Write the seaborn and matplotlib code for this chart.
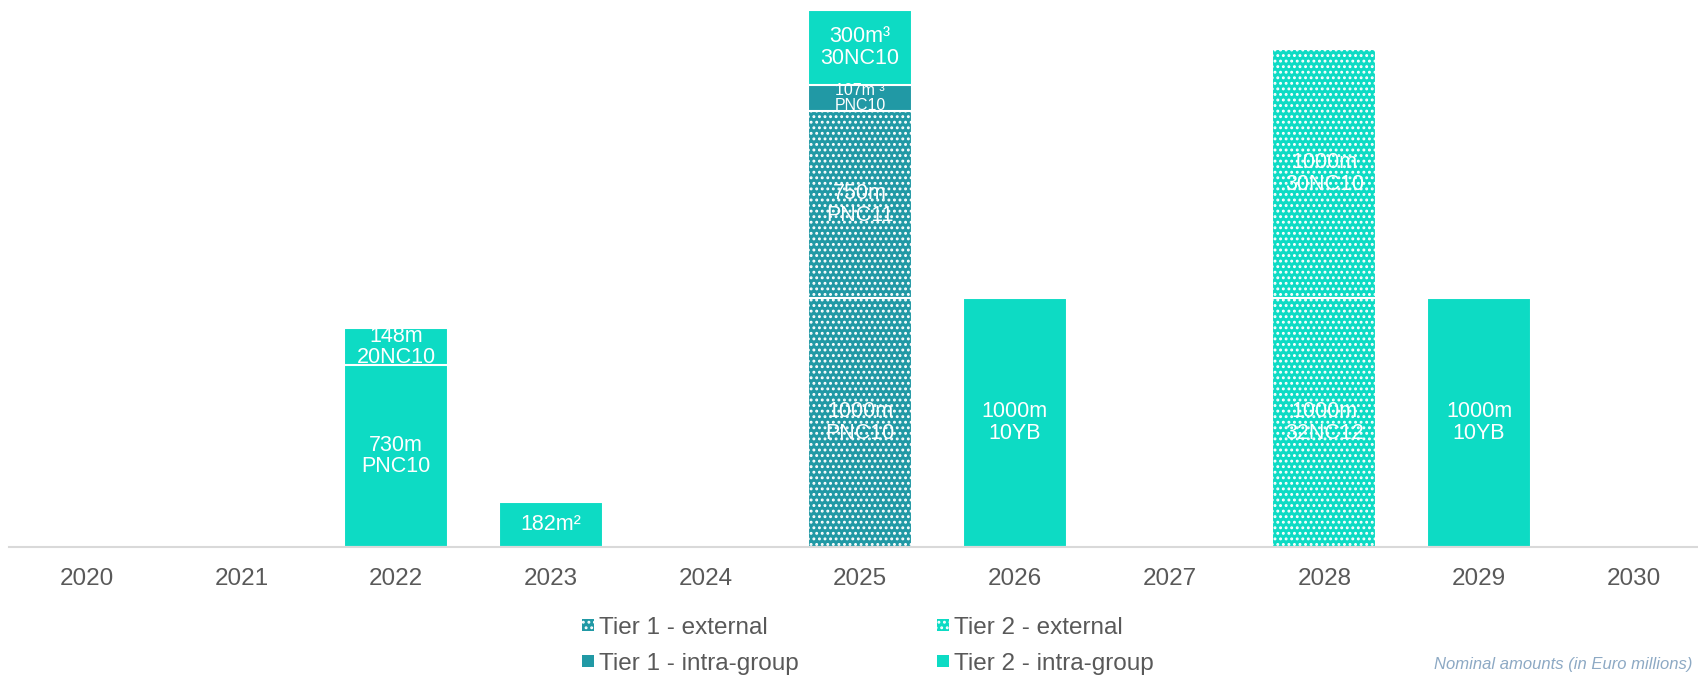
import matplotlib
matplotlib.use("Agg")
import numpy as np
import pandas as pd
import matplotlib.pyplot as plt
import seaborn as sns
from matplotlib.patches import Patch

# Maturity profile by year
years = [2020, 2021, 2022, 2023, 2024, 2025, 2026, 2027, 2028, 2029, 2030]

# Stacked segments, listed bottom to top within each year
seg_year = [2022, 2022, 2023, 2025, 2025, 2025, 2025, 2026, 2028, 2028, 2029]
seg_value = [730, 148, 182, 1000, 750, 107, 300, 1000, 1000, 1000, 1000]
seg_tier = [
    "Tier 2 - intra-group", "Tier 2 - intra-group", "Tier 2 - intra-group",
    "Tier 1 - external", "Tier 1 - external", "Tier 1 - intra-group",
    "Tier 2 - intra-group", "Tier 2 - intra-group",
    "Tier 2 - external", "Tier 2 - external", "Tier 2 - intra-group",
]
seg_label = [
    "730m\nPNC10", "148m\n20NC10", "182m\u00b2",
    "1000m\nPNC10", "750m\nPNC11", "107m \u00b3\nPNC10", "300m\u00b3\n30NC10",
    "1000m\n10YB", "1000m\n32NC12", "1000m\n30NC10", "1000m\n10YB",
]

tier_order = ["Tier 1 - external", "Tier 1 - intra-group",
              "Tier 2 - external", "Tier 2 - intra-group"]
DARK = "#2199A5"
LIGHT = "#0DDBC4"
tier_style = {
    "Tier 1 - external": (DARK, "..."),
    "Tier 1 - intra-group": (DARK, None),
    "Tier 2 - external": (LIGHT, "..."),
    "Tier 2 - intra-group": (LIGHT, None),
}

sns.set_theme(style="white")
plt.rcParams["font.family"] = ["Liberation Sans", "DejaVu Sans"]
plt.rcParams["hatch.color"] = "white"
plt.rcParams["hatch.linewidth"] = 1.3

df = pd.DataFrame({"year": seg_year, "value": seg_value,
                   "tier": seg_tier, "label": seg_label})
df["level"] = df.groupby("year").cumcount()
df["top"] = df.groupby("year")["value"].cumsum()
df["bottom"] = df["top"] - df["value"]
df["year_str"] = df["year"].astype(str)
year_strs = [str(y) for y in years]
pos = {y: i for i, y in enumerate(years)}

W, H = 1698, 675
slot = 154.7
left_px = 9.3
fig = plt.figure(figsize=(W / 100, H / 100), dpi=100)
ax = fig.add_axes([left_px / W, 128 / H, len(years) * slot / W, 1 - 128 / H])

# Draw cumulative layers from the top segment down so each lower one overlays
for lvl in sorted(df["level"].unique(), reverse=True):
    sub = df[df["level"] == lvl]
    n_before = len(ax.patches)
    sns.barplot(data=sub, x="year_str", y="top", order=year_strs,
                width=0.672, color=LIGHT, edgecolor="white", linewidth=1.5,
                errorbar=None, ax=ax)
    for p in ax.patches[n_before:]:
        idx = int(round(p.get_x() + p.get_width() / 2))
        row = sub[sub["year"] == years[idx]]
        if row.empty:
            continue
        color, hatch = tier_style[row["tier"].iloc[0]]
        p.set_facecolor(color)
        p.set_edgecolor("white")
        if hatch:
            p.set_hatch(hatch)

# Segment labels
for _, r in df.iterrows():
    small = r["value"] < 150 and r["year"] == 2025
    ax.text(pos[r["year"]], r["bottom"] + r["value"] / 2, r["label"],
            ha="center", va="center", color="white",
            fontsize=11.5 if small else 15.5,
            linespacing=0.98 if small else 1.04)

ax.set_xlim(-0.5, len(years) - 0.5)
ax.set_ylim(0, 2197)
ax.set_xlabel("")
ax.set_ylabel("")
ax.set_yticks([])
ax.tick_params(axis="x", length=0, pad=15, labelsize=17.5, labelcolor="#595959")
for s in ["top", "left", "right"]:
    ax.spines[s].set_visible(False)
ax.spines["bottom"].set_color("#D9D9D9")
ax.spines["bottom"].set_linewidth(1.5)

handles = []
for t in tier_order:
    color, hatch = tier_style[t]
    handles.append(Patch(facecolor=color, edgecolor="white", linewidth=0,
                         hatch=hatch, label=t))
fig.legend(handles=handles, ncol=2, loc="upper left",
           bbox_to_anchor=(582 / W, 1 - 617 / H), frameon=False,
           fontsize=17.5, labelcolor="#595959", handlelength=0.5,
           handleheight=0.4, handletextpad=0.2, columnspacing=5.7,
           labelspacing=0.57, borderpad=0, borderaxespad=0)

fig.text(1692 / W, 3 / H, "Nominal amounts (in Euro millions)",
         fontsize=12, style="italic", color="#8DA9C4", ha="right",
         va="bottom")

fig.savefig("out.png", dpi=100)
